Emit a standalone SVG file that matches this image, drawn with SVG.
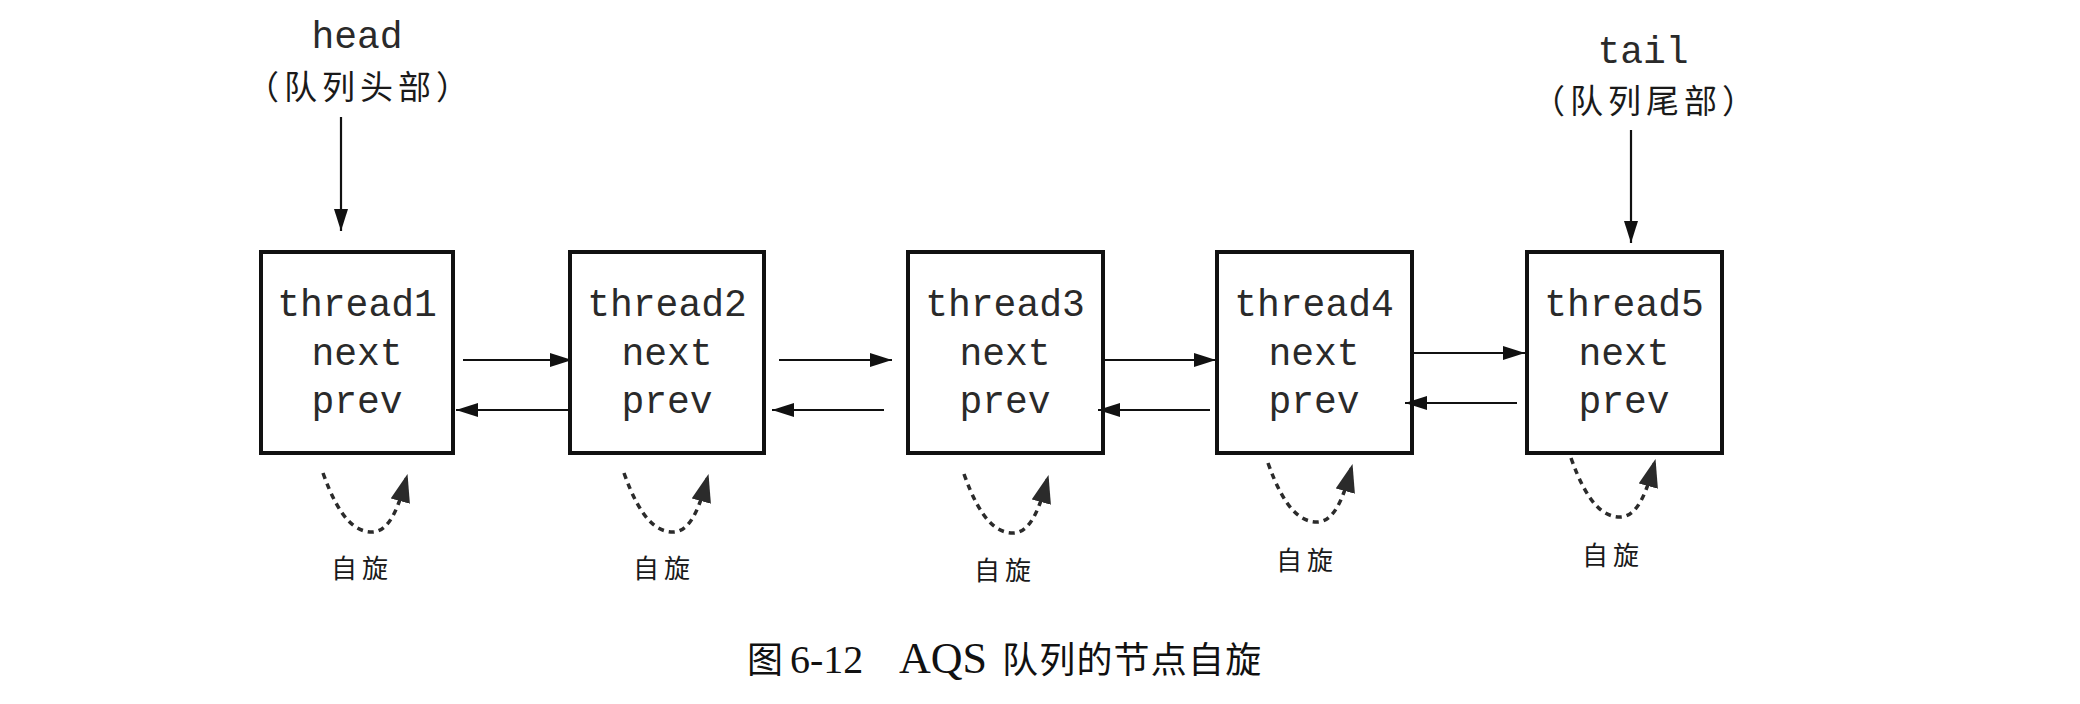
<svg xmlns="http://www.w3.org/2000/svg" width="2080" height="704" viewBox="0 0 2080 704">
<style>
.box{fill:#fff;stroke:#111;stroke-width:4}
.mono{font-family:"Liberation Mono","Courier New",monospace;font-size:38px;fill:#2a2a2a;text-anchor:middle}
.cjk{font-family:"Noto Sans CJK SC","Noto Sans CJK JP",sans-serif;fill:#1a1a1a;text-anchor:middle}
.lbl{font-size:33px;letter-spacing:5px}
.spin-t{font-size:26px;letter-spacing:5px}
.link{stroke:#111;stroke-width:2.2;fill:none;marker-end:url(#ah)}
.spin{stroke:#2b2b2b;stroke-width:3.5;fill:none;stroke-dasharray:6 5;marker-end:url(#sh)}
.cap{font-family:"Liberation Serif","Times New Roman","Noto Sans CJK SC",serif;font-size:40px;fill:#111}
</style>
<defs>
<marker id="ah" markerUnits="userSpaceOnUse" markerWidth="22" markerHeight="14" refX="22" refY="7" orient="auto" viewBox="0 0 22 14">
<path d="M0,0 L22,7 L0,14 z" fill="#111"/>
</marker>
<marker id="sh" markerUnits="userSpaceOnUse" markerWidth="28" markerHeight="20" refX="26" refY="10" orient="auto" viewBox="0 0 28 20">
<path d="M0,0 L28,10 L0,20 z" fill="#2b2b2b"/>
</marker>
<path id="spinpath" d="M-49,-59 C-33,-14 -17,0 0,0 C19,0 28,-30 35,-56"/>
</defs>
<rect width="2080" height="704" fill="#fff"/>

<g id="head-label">
<text class="mono" x="357" y="48">head</text>
<text class="cjk lbl" x="360" y="99">（队列头部）</text>
</g>
<g id="tail-label">
<text class="mono" x="1643" y="63">tail</text>
<text class="cjk lbl" x="1646" y="113">（队列尾部）</text>
</g>

<g id="node1">
<rect class="box" x="261" y="252" width="192" height="201"/>
<text class="mono" x="357" y="316">thread1</text>
<text class="mono" x="357" y="365">next</text>
<text class="mono" x="357" y="413">prev</text>
</g>
<g id="node2">
<rect class="box" x="570" y="252" width="194" height="201"/>
<text class="mono" x="667" y="316">thread2</text>
<text class="mono" x="667" y="365">next</text>
<text class="mono" x="667" y="413">prev</text>
</g>
<g id="node3">
<rect class="box" x="908" y="252" width="195" height="201"/>
<text class="mono" x="1005" y="316">thread3</text>
<text class="mono" x="1005" y="365">next</text>
<text class="mono" x="1005" y="413">prev</text>
</g>
<g id="node4">
<rect class="box" x="1217" y="252" width="195" height="201"/>
<text class="mono" x="1314" y="316">thread4</text>
<text class="mono" x="1314" y="365">next</text>
<text class="mono" x="1314" y="413">prev</text>
</g>
<g id="node5">
<rect class="box" x="1527" y="252" width="195" height="201"/>
<text class="mono" x="1624" y="316">thread5</text>
<text class="mono" x="1624" y="365">next</text>
<text class="mono" x="1624" y="413">prev</text>
</g>

<g id="connectors">
<line class="link" x1="341" y1="117" x2="341" y2="231"/>
<line class="link" x1="1631" y1="130" x2="1631" y2="243"/>
<line class="link" x1="463" y1="360" x2="572" y2="360"/>
<line class="link" x1="568" y1="410" x2="456" y2="410"/>
<line class="link" x1="779" y1="360" x2="892" y2="360"/>
<line class="link" x1="884" y1="410" x2="772" y2="410"/>
<line class="link" x1="1104" y1="360" x2="1216" y2="360"/>
<line class="link" x1="1210" y1="410" x2="1098" y2="410"/>
<line class="link" x1="1413" y1="353" x2="1525" y2="353"/>
<line class="link" x1="1517" y1="403" x2="1405" y2="403"/>
<use href="#spinpath" class="spin" transform="translate(372,532)"/>
<use href="#spinpath" class="spin" transform="translate(673,532)"/>
<use href="#spinpath" class="spin" transform="translate(1013,533)"/>
<use href="#spinpath" class="spin" transform="translate(1317,522)"/>
<use href="#spinpath" class="spin" transform="translate(1620,517)"/>
</g>

<g id="spin-labels">
<text class="cjk spin-t" x="362" y="578">自旋</text>
<text class="cjk spin-t" x="664" y="578">自旋</text>
<text class="cjk spin-t" x="1005" y="580">自旋</text>
<text class="cjk spin-t" x="1307" y="570">自旋</text>
<text class="cjk spin-t" x="1613" y="565">自旋</text>
</g>

<g id="caption">
<text class="cap" y="673"><tspan x="747" font-family="Noto Sans CJK SC, sans-serif" font-size="36">图</tspan><tspan x="790">6-12</tspan><tspan x="899" font-size="44">AQS</tspan><tspan x="1002" font-family="Noto Sans CJK SC, sans-serif" font-size="36" letter-spacing="1.2">队列的节点自旋</tspan></text>
</g>
</svg>
